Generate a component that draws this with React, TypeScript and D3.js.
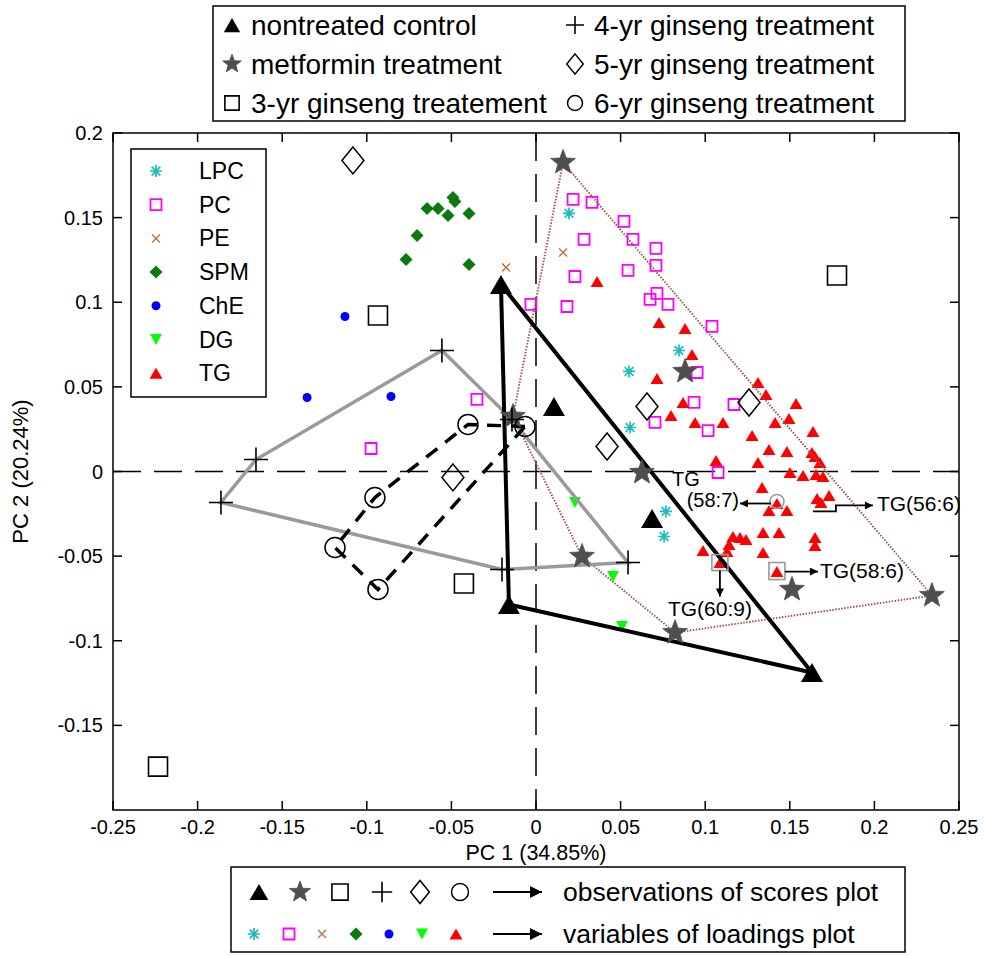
import React from 'react';
import * as d3 from 'd3';

// ---- scores (PC1, PC2) ----
const nontreated: [number, number][] = [
  [-0.0207, 0.1105], [-0.016, -0.0786], [0.1631, -0.1188], [0.0106, 0.0384], [0.0686, -0.0278],
];
const metformin: [number, number][] = [
  [0.016, 0.1826], [-0.0136, 0.0325], [0.0626, -0.0006], [0.0881, 0.0591],
  [0.0272, -0.0502], [0.0822, -0.0952], [0.1513, -0.0697], [0.234, -0.0733],
];
const ginseng3: [number, number][] = [
  [0.1779, 0.1158], [-0.0934, 0.0922], [-0.0426, -0.0662], [-0.2234, -0.1744],
];
const ginseng4: [number, number][] = [
  [-0.0556, 0.0715], [-0.0142, 0.0307], [0.0544, -0.0538], [-0.0201, -0.0579],
  [-0.1862, -0.0183], [-0.1655, 0.0071],
];
const ginseng5: [number, number][] = [
  [-0.1082, 0.1838], [0.0656, 0.0384], [0.042, 0.0148], [0.1259, 0.0408], [-0.0491, -0.0035],
];
const ginseng6: [number, number][] = [
  [-0.0402, 0.0278], [-0.0065, 0.0266], [-0.0952, -0.0154], [-0.1188, -0.0449], [-0.0934, -0.0697],
];

// ---- loadings ----
const lpc: [number, number][] = [
  [0.0195, 0.1525], [0.0845, 0.0715], [0.055, 0.0591], [0.0556, 0.026], [0.0768, -0.0236], [0.0757, -0.0384],
];
const pc: [number, number][] = [
  [0.0219, 0.1608], [0.0331, 0.159], [0.052, 0.1478], [0.0573, 0.1371], [0.0709, 0.1318],
  [0.0709, 0.1218], [0.0284, 0.1371], [0.023, 0.1152], [0.0544, 0.1188], [0.0183, 0.0975],
  [-0.003, 0.0987], [0.0715, 0.1052], [0.0674, 0.1017], [0.078, 0.0987], [0.104, 0.0857],
  [0.0952, 0.0585], [0.0934, 0.0408], [0.117, 0.0396], [0.0703, 0.029], [0.1017, 0.0242],
  [0.1076, -0.0006], [-0.0349, 0.0426], [-0.0975, 0.0136],
];
const pe: [number, number][] = [[-0.0177, 0.1206], [0.016, 0.1294]];
const spm: [number, number][] = [
  [-0.0768, 0.1253], [-0.0703, 0.1395], [-0.0644, 0.1554], [-0.0579, 0.1554], [-0.052, 0.1513],
  [-0.0491, 0.1619], [-0.0479, 0.1596], [-0.0396, 0.1525], [-0.0396, 0.1223],
];
const che: [number, number][] = [[-0.1129, 0.0916], [-0.1353, 0.0437], [-0.0857, 0.0443]];
const dg: [number, number][] = [[0.023, -0.0183], [0.0455, -0.0621], [0.0508, -0.0916]];
const tg: [number, number][] = [
  [0.0361, 0.1123], [0.0727, 0.0881], [0.0881, 0.0845], [0.0922, 0.0691], [0.0715, 0.055],
  [0.0869, 0.0408], [0.0798, 0.0331], [0.094, 0.029], [0.1105, 0.029], [0.1312, 0.0526],
  [0.1359, 0.0455], [0.1537, 0.0402], [0.1413, 0.029], [0.1495, 0.0313], [0.1277, 0.0213],
  [0.1637, 0.0236], [0.1377, 0.013], [0.1483, 0.0118], [0.1631, 0.0112], [0.1064, 0.0065],
  [0.1312, 0.0053], [0.1649, 0.0089], [0.1678, 0.0053], [0.1501, -0.0006], [0.1578, -0.0024],
  [0.1655, -0.0018], [0.1696, -0.003], [0.1336, -0.0095], [0.1661, -0.016], [0.1732, -0.0142],
  [0.1684, -0.0183], [0.1424, -0.0189], [0.1377, -0.023], [0.1483, -0.023], [0.1342, -0.0361],
  [0.1436, -0.0361], [0.1164, -0.0384], [0.1206, -0.039], [0.1241, -0.0402], [0.1141, -0.0431],
  [0.1129, -0.0473], [0.0987, -0.0467], [0.1342, -0.0479], [0.1649, -0.039], [0.1649, -0.0437],
  [0.1087, -0.0538], [0.1424, -0.0591],
];

const xTicks = [-0.25, -0.2, -0.15, -0.1, -0.05, 0, 0.05, 0.1, 0.15, 0.2, 0.25];
const yTicks = [-0.15, -0.1, -0.05, 0, 0.05, 0.1, 0.15, 0.2];

const scoreLegend = [
  'nontreated control', 'metformin treatment', '3-yr ginseng treatement',
  '4-yr ginseng treatment', '5-yr ginseng treatment', '6-yr ginseng treatment',
];
const loadingLegend = ['LPC', 'PC', 'PE', 'SPM', 'ChE', 'DG', 'TG'];

const FONT = '"Liberation Sans", Arial, sans-serif';

// marker shapes
const tri = (w: number, h: number) => `M0,${-h / 2}L${w / 2},${h / 2}L${-w / 2},${h / 2}Z`;
const triDown = (w: number, h: number) => `M0,${h / 2}L${w / 2},${-h / 2}L${-w / 2},${-h / 2}Z`;
const square = (s: number) => `M${-s / 2},${-s / 2}h${s}v${s}h${-s}Z`;
const plus = (s: number) => `M${-s / 2},0H${s / 2}M0,${-s / 2}V${s / 2}`;
const cross = (s: number) => `M${-s / 2},${-s / 2}L${s / 2},${s / 2}M${-s / 2},${s / 2}L${s / 2},${-s / 2}`;
const diamond = (w: number, h: number) => `M0,${-h / 2}L${w / 2},0L0,${h / 2}L${-w / 2},0Z`;
const asterisk = (s: number) => plus(s) + cross(s * 0.72);
const star = (R: number) => {
  const pts = d3.range(10).map(i => {
    const a = -Math.PI / 2 + (i * Math.PI) / 5;
    const r = i % 2 ? R * 0.42 : R;
    return [r * Math.cos(a), r * Math.sin(a)];
  });
  return 'M' + pts.map(p => p.join(',')).join('L') + 'Z';
};

type Style = { d: string; fill: string; stroke: string; sw: number };
const scoreStyles = (k: number): Style[] => [
  { d: tri(22 * k, 19 * k), fill: '#000', stroke: 'none', sw: 0 },
  { d: star(13 * k), fill: '#4f4f4f', stroke: '#4f4f4f', sw: 0.8 },
  { d: square(19 * k), fill: 'none', stroke: '#000', sw: 1.6 },
  { d: plus(24 * k), fill: 'none', stroke: '#000', sw: 1.6 },
  { d: diamond(22 * k, 27 * k), fill: 'none', stroke: '#000', sw: 1.5 },
  { d: d3.symbol(d3.symbolCircle, Math.PI * (10 * k) ** 2)() as string, fill: 'none', stroke: '#000', sw: 1.5 },
];
const loadStyles = (k: number): Style[] => [
  { d: asterisk(12 * k), fill: 'none', stroke: '#1cbcbc', sw: 1.7 },
  { d: square(11 * k), fill: 'none', stroke: '#ff00ff', sw: 1.8 },
  { d: cross(8 * k), fill: 'none', stroke: '#bd7040', sw: 1.4 },
  { d: diamond(13 * k, 13 * k), fill: '#0a7a0a', stroke: 'none', sw: 0 },
  { d: d3.symbol(d3.symbolCircle, Math.PI * (4.5 * k) ** 2)() as string, fill: '#0000ff', stroke: 'none', sw: 0 },
  { d: triDown(12 * k, 11 * k), fill: '#00ff00', stroke: 'none', sw: 0 },
  { d: tri(13 * k, 11 * k), fill: '#ff0000', stroke: 'none', sw: 0 },
];

const App = () => {
  const x = d3.scaleLinear().domain([-0.25, 0.25]).range([113, 959]);
  const y = d3.scaleLinear().domain([-0.2, 0.2]).range([810, 133]);
  const px = (p: [number, number]) => [x(p[0]), y(p[1])] as [number, number];

  const sS = scoreStyles(1);
  const lS = loadStyles(1);

  const marks = (data: [number, number][], st: Style, key: string) =>
    data.map((p, i) => (
      <path key={key + i} d={st.d} transform={`translate(${x(p[0])},${y(p[1])})`}
        fill={st.fill} stroke={st.stroke} strokeWidth={st.sw} />
    ));

  const hull = (data: [number, number][]) => {
    const h = d3.polygonHull(data.map(px));
    return h ? 'M' + h.map(p => p.join(',')).join('L') + 'Z' : '';
  };

  const [l0, r0, t0, b0] = [x(-0.25), x(0.25), y(0.2), y(-0.2)];

  // annotation anchors
  const a587 = px(tg[31]);
  const a566 = px(tg[30]);
  const a586 = px(tg[46]);
  const a609 = px(tg[45]);

  const loadOrder = [lpc, pc, pe, spm, che, dg, tg];
  const scoreOrder = [nontreated, metformin, ginseng3, ginseng4, ginseng5, ginseng6];

  const legTop = scoreStyles(0.75);
  const legBot = scoreStyles(0.85);
  const legLoad = loadStyles(1);

  return (
    <svg width={984} height={956} style={{ position: 'absolute', left: 0, top: 0, background: '#fff' }}
      fontFamily={FONT}>
      <defs>
        <marker id="ah" viewBox="0 0 10 10" refX="10" refY="5" markerWidth="10" markerHeight="8"
          markerUnits="userSpaceOnUse" orient="auto">
          <path d="M0,0L10,5L0,10Z" fill="#000" />
        </marker>
        <marker id="ahBig" viewBox="0 0 10 10" refX="10" refY="5" markerWidth="14" markerHeight="12"
          markerUnits="userSpaceOnUse" orient="auto">
          <path d="M0,0L10,5L0,10Z" fill="#000" />
        </marker>
      </defs>
      <rect width={984} height={956} fill="#fff" />

      {/* zero lines */}
      <line x1={l0} x2={r0} y1={y(0)} y2={y(0)} stroke="#000" strokeWidth={1.5} strokeDasharray="28,13" />
      <line x1={x(0)} x2={x(0)} y1={t0} y2={b0} stroke="#000" strokeWidth={1.5} strokeDasharray="28,13" />

      {/* loadings */}
      {loadOrder.map((d, i) => marks(d, lS[i], 'l' + i))}

      {/* hulls */}
      <path d={hull(metformin)} fill="none" stroke="#a0524f" strokeWidth={1.9} strokeDasharray="1.5,1.5" />
      <path d={hull(ginseng4)} fill="none" stroke="#9a9a9a" strokeWidth={3.5} />
      <path d={hull(ginseng6)} fill="none" stroke="#000" strokeWidth={3.5} strokeDasharray="14,10" />
      <path d={hull(nontreated)} fill="none" stroke="#000" strokeWidth={4} strokeLinejoin="round" />

      {/* scores */}
      {scoreOrder.map((d, i) => marks(d, sS[i], 's' + i))}

      {/* annotations */}
      <g fill="none" stroke="#999" strokeWidth={1.6}>
        <circle cx={a587[0]} cy={a587[1] - 2} r={7} />
        <rect x={a586[0] - 8} y={a586[1] - 9} width={16} height={17} />
        <rect x={a609[0] - 8} y={a609[1] - 8} width={16} height={16} />
      </g>
      <g stroke="#000" strokeWidth={1.8} fill="none">
        <line x1={a587[0] - 6} y1={a587[1]} x2={a587[0] - 37} y2={a587[1]} markerEnd="url(#ah)" />
        <polyline points={`${a566[0] - 8},${a566[1] + 9} ${a566[0] + 15},${a566[1] + 9} ${a566[0] + 15},${a566[1] + 3} ${a566[0] + 52},${a566[1] + 3}`}
          markerEnd="url(#ah)" />
        <line x1={a586[0] + 8} y1={a586[1]} x2={a586[0] + 41} y2={a586[1]} markerEnd="url(#ah)" />
        <line x1={a609[0]} y1={a609[1] + 8} x2={a609[0]} y2={a609[1] + 34} markerEnd="url(#ah)" />
      </g>
      <g fontSize={20} fill="#000">
        <text x={a587[0] - 105} y={a587[1] - 24} dy="0.35em">TG</text>
        <text x={a587[0] - 38} y={a587[1] - 3} dy="0.35em" textAnchor="end">(58:7)</text>
        <text x={a566[0] + 56} y={a566[1] + 1} dy="0.35em" fontSize={21}>TG(56:6)</text>
        <text x={a586[0] + 43} y={a586[1] - 1} dy="0.35em" fontSize={21}>TG(58:6)</text>
        <text x={a609[0] - 10} y={a609[1] + 46} dy="0.35em" textAnchor="middle" fontSize={21}>TG(60:9)</text>
      </g>

      {/* axes box and ticks */}
      <rect x={l0} y={t0} width={r0 - l0} height={b0 - t0} fill="none" stroke="#000" strokeWidth={1.5} />
      <g stroke="#000" strokeWidth={1.5}>
        {xTicks.map(t => (
          <g key={'xt' + t}>
            <line x1={x(t)} x2={x(t)} y1={b0} y2={b0 - 9} />
            <line x1={x(t)} x2={x(t)} y1={t0} y2={t0 + 9} />
          </g>
        ))}
        {yTicks.map(t => (
          <g key={'yt' + t}>
            <line x1={l0} x2={l0 + 9} y1={y(t)} y2={y(t)} />
            <line x1={r0} x2={r0 - 9} y1={y(t)} y2={y(t)} />
          </g>
        ))}
      </g>
      <g fontSize={20} fill="#000">
        {xTicks.map(t => (
          <text key={'xl' + t} x={x(t)} y={b0 + 24} textAnchor="middle">{String(t)}</text>
        ))}
        {yTicks.map(t => (
          <text key={'yl' + t} x={l0 - 10} y={y(t)} dy="0.35em" textAnchor="end">{String(t)}</text>
        ))}
      </g>
      <text x={x(0)} y={b0 + 50} fontSize={21.5} textAnchor="middle">PC 1 (34.85%)</text>
      <text transform={`translate(28,${y(0)}) rotate(-90)`} fontSize={22} textAnchor="middle">PC 2 (20.24%)</text>

      {/* inner loadings legend */}
      <rect x={131} y={149} width={135} height={248} fill="#fff" stroke="#000" strokeWidth={1.5} />
      {loadingLegend.map((name, i) => {
        const yy = 171 + i * 33.7;
        const st = legLoad[i];
        return (
          <g key={name}>
            <path d={st.d} transform={`translate(156,${yy})`} fill={st.fill} stroke={st.stroke} strokeWidth={st.sw} />
            <text x={199} y={yy} dy="0.35em" fontSize={23}>{name}</text>
          </g>
        );
      })}

      {/* top scores legend */}
      <rect x={213} y={6} width={692} height={115} fill="#fff" stroke="#000" strokeWidth={1.5} />
      {scoreLegend.map((name, i) => {
        const col = Math.floor(i / 3);
        const yy = [25, 64, 103][i % 3];
        const mx = col ? 575 : 232;
        const st = legTop[i];
        return (
          <g key={name}>
            <path d={st.d} transform={`translate(${mx},${yy})`} fill={st.fill} stroke={st.stroke} strokeWidth={st.sw} />
            <text x={mx + 19} y={yy} dy="0.35em" fontSize={28}>{name}</text>
          </g>
        );
      })}

      {/* bottom legend */}
      <rect x={231} y={867} width={674} height={85} fill="#fff" stroke="#000" strokeWidth={1.5} />
      {[259, 300, 340, 382, 420, 460].map((mx, i) => {
        const st = legBot[i];
        return <path key={'b1' + i} d={st.d} transform={`translate(${mx},892)`} fill={st.fill} stroke={st.stroke} strokeWidth={st.sw} />;
      })}
      {[254, 289, 322, 356, 389, 422, 456].map((mx, i) => {
        const st = legLoad[i];
        return <path key={'b2' + i} d={st.d} transform={`translate(${mx},934)`} fill={st.fill} stroke={st.stroke} strokeWidth={st.sw} />;
      })}
      <g stroke="#000" strokeWidth={2}>
        <line x1={493} x2={542} y1={892} y2={892} markerEnd="url(#ahBig)" />
        <line x1={493} x2={542} y1={934} y2={934} markerEnd="url(#ahBig)" />
      </g>
      <text x={563} y={892} dy="0.35em" fontSize={26.5}>observations of scores plot</text>
      <text x={563} y={934} dy="0.35em" fontSize={26.5}>variables of loadings plot</text>
    </svg>
  );
};

export default App;
